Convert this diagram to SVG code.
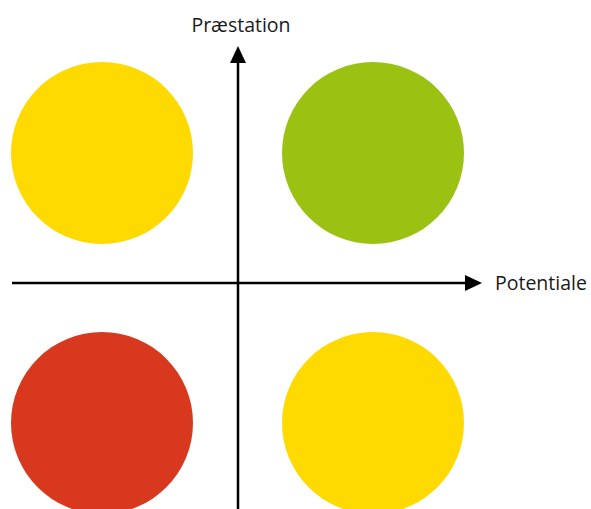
<svg xmlns="http://www.w3.org/2000/svg" width="591" height="509" viewBox="0 0 591 509">
<style>
.ax{stroke:#000;stroke-width:2.5;fill:none}
.lbl{font-family:"Open Sans","Liberation Sans",sans-serif;font-size:19.5px;fill:#1a1a1a}
</style>
<rect width="591" height="509" fill="#fff"/>
<g id="tl"><circle cx="102" cy="153" r="91" fill="#FFDA00"/></g>
<g id="tr"><circle cx="373" cy="153" r="91" fill="#9BC212"/></g>
<g id="bl"><circle cx="102" cy="423" r="91" fill="#D7381E"/></g>
<g id="br"><circle cx="373" cy="423" r="91" fill="#FFDA00"/></g>
<g id="connectors">
<line class="ax" x1="12" y1="283" x2="466" y2="283"/>
<polygon points="465,275 482,283 465,291" fill="#000"/>
<line class="ax" x1="238" y1="509" x2="238" y2="62"/>
<polygon points="230,63 238,46 246,63" fill="#000"/>
</g>
<g id="labels">
<text class="lbl" x="241" y="32" text-anchor="middle">Præstation</text>
<text class="lbl" x="495" y="290">Potentiale</text>
</g>
</svg>
